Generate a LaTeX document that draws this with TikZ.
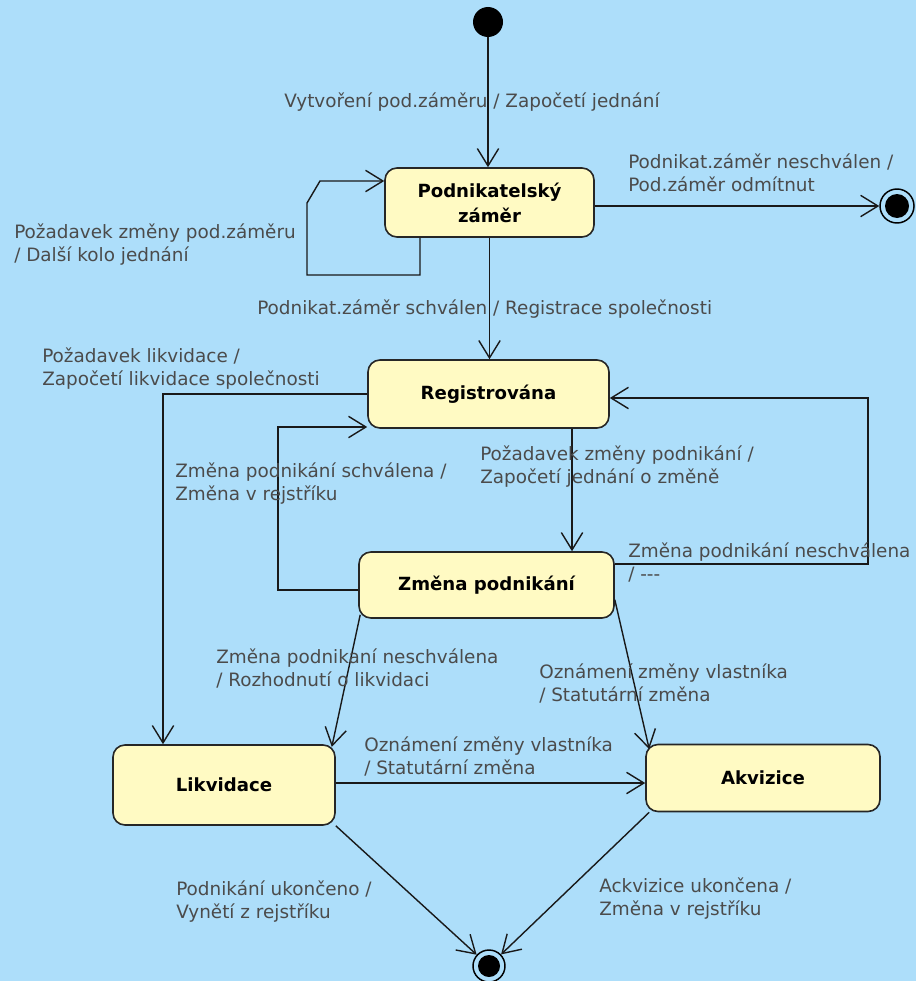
\documentclass[tikz,border=0pt]{standalone}
\usepackage{fontspec}
\setmainfont{DejaVu Sans}
\usetikzlibrary{arrows.meta}
\definecolor{bgblue}{RGB}{173,222,250}
\definecolor{boxfill}{RGB}{255,250,195}
\definecolor{lblgray}{RGB}{75,75,75}
\begin{document}
\begin{tikzpicture}[x=0.75pt,y=-0.75pt,
  statebox/.style={draw=black!85, line width=1.2pt, fill=boxfill, rounded corners=9pt,
    font=\fontsize{13.6}{18.75}\selectfont\bfseries, align=center, inner sep=0pt},
  lbl/.style={anchor=west, align=left, inner sep=0pt, text=lblgray,
    font=\fontsize{13.8}{17.25}\selectfont},
  arr/.style={draw=black!90, line width=1.05pt, -{Straight Barb[length=13pt,width=16pt,line width=1.05pt]}}
]
\fill[bgblue] (0,0) rectangle (916,981);
\useasboundingbox (0,0) rectangle (916,981);

% states
\node[statebox, minimum width=209*0.75pt, minimum height=69*0.75pt] (pz) at (489.5,202.5) {Podnikatelský\\záměr};
\node[statebox, minimum width=241*0.75pt, minimum height=68*0.75pt] (reg) at (488.5,394) {Registrována};
\node[statebox, minimum width=255*0.75pt, minimum height=66*0.75pt] (zm) at (486.5,585) {Změna podnikání};
\node[statebox, minimum width=222*0.75pt, minimum height=80*0.75pt] (lik) at (224,785) {Likvidace};
\node[statebox, minimum width=234*0.75pt, minimum height=67*0.75pt] (ak) at (763,778) {Akvizice};

% pseudo states
\node[circle, fill=black, minimum size=30*0.75pt, inner sep=0pt] (init) at (488,22) {};
\node[circle, draw=black, line width=1.1pt, fill=bgblue, minimum size=34*0.75pt, inner sep=0pt] (fin1) at (897,206) {};
\fill[black] (fin1.center) circle (12*0.75pt);
\node[circle, draw=black, line width=1.1pt, fill=bgblue, minimum size=32*0.75pt, inner sep=0pt] (fin2) at (489,966) {};
\fill[black] (fin2.center) circle (11*0.75pt);

% bend coordinates
\coordinate (l1) at (420,275);
\coordinate (l2) at (307,275);
\coordinate (l3) at (307,203);
\coordinate (l4) at (320,181);
\coordinate (c1) at (163,394);
\coordinate (c2) at (278,590);
\coordinate (c3) at (278,427);
\coordinate (c4) at (572,430);
\coordinate (c5) at (868,564);
\coordinate (c6) at (868,398);
\coordinate (lk) at (335,783);

% transitions
\draw[arr] (init) -- (init |- pz.north);
\draw[arr] (l1 |- pz.south) -- (l1) -- (l2) -- (l3) -- (l4) -- (l4 -| pz.west);
\draw[arr] (fin1 -| pz.east) -- (fin1.west);
\draw[arr] (pz.south) -- (pz.south |- reg.north);
\draw[arr] (reg.west) -- (c1) -- (c1 |- lik.north);
\draw[arr] (c2 -| zm.west) -- (c2) -- (c3) -- (c3 -| reg.west);
\draw[arr] (c4 |- reg.south) -- (c4 |- zm.north);
\draw[arr] (c5 -| zm.east) -- (c5) -- (c6) -- (c6 -| reg.east);
\draw[arr] ([xshift=1.5pt,yshift=3pt]zm.south west) -- ([xshift=-3pt,yshift=-2pt]lik.north east);
\draw[arr] ([yshift=-11pt]zm.east) -- ([xshift=3pt,yshift=-4pt]ak.north west);
\draw[arr] (lk -| lik.east) -- (lk -| ak.west);
\draw[arr] (lik.south east) -- (fin2);
\draw[arr] ([xshift=3pt]ak.south west) -- (fin2);

% labels
\node[lbl] (t1) at (284,102) {Vytvoření pod.záměru / Započetí jednání};
\node[lbl] (t2) at (628,172.5) {Podnikat.záměr neschválen /\\Pod.záměr odmítnut};
\node[lbl] (t3) at (14,244.5) {Požadavek změny pod.záměru\\/ Další kolo jednání};
\node[lbl] (t4) at (257,309) {Podnikat.záměr schválen / Registrace společnosti};
\node[lbl] (t5) at (42,368.5) {Požadavek likvidace /\\Započetí likvidace společnosti};
\node[lbl] (t6) at (175,483.5) {Změna podnikání schválena /\\Změna v rejstříku};
\node[lbl] (t7) at (480,466.5) {Požadavek změny podnikání /\\Započetí jednání o změně};
\node[lbl] (t8) at (628,562) {Změna podnikání neschválena\\/ -{}-{}-};
\node[lbl] (t9) at (216,668) {Změna podnikaní neschválena\\/ Rozhodnutí o likvidaci};
\node[lbl] (t10) at (539,683.5) {Oznámení změny vlastníka\\/ Statutární změna};
\node[lbl] (t11) at (364,756) {Oznámení změny vlastníka\\/ Statutární změna};
\node[lbl] (t12) at (176,901.5) {Podnikání ukončeno /\\Vynětí z rejstříku};
\node[lbl] (t13) at (599,899) {Ackvizice ukončena /\\Změna v rejstříku};
\end{tikzpicture}
\end{document}
